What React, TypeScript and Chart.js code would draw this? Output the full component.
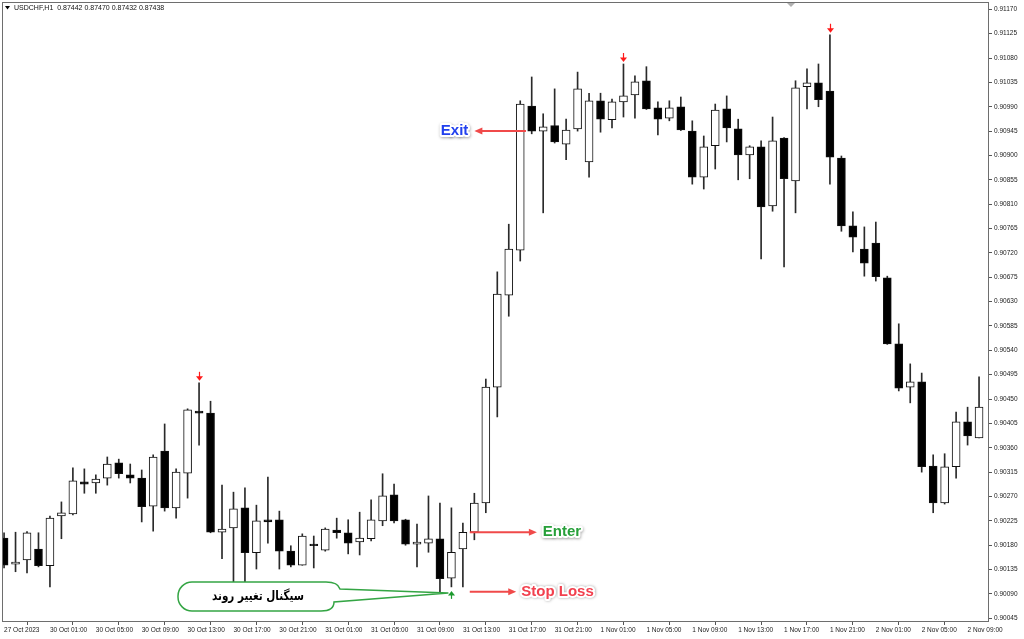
import React, { useEffect, useRef } from "react";
import { Chart, registerables } from "chart.js";

Chart.register(...registerables);

// USDCHF H1 candles, 27 Oct 2023 21:00 -> 2 Nov 2023 10:00
const opens = [
  0.90193, 0.90145, 0.90153, 0.90173, 0.90142, 0.90234, 0.90238, 0.90297, 0.90295, 0.90304,
  0.90332, 0.9031, 0.90304, 0.90252, 0.90354, 0.90249, 0.90313, 0.90428, 0.90424, 0.90204,
  0.90212, 0.90249, 0.90166, 0.90227, 0.90227, 0.90169, 0.90143, 0.90182, 0.90171, 0.90208,
  0.90203, 0.90186, 0.90192, 0.90225, 0.90273, 0.90227, 0.90182, 0.90184, 0.90192, 0.90119,
  0.90173, 0.90204, 0.90258, 0.90472, 0.90642, 0.90725, 0.90991, 0.90945, 0.90955, 0.90921,
  0.90949, 0.90888, 0.91001, 0.90966, 0.90999, 0.91012, 0.91038, 0.90988, 0.90969, 0.9099,
  0.90945, 0.9086, 0.90918, 0.90986, 0.90949, 0.90901, 0.90916, 0.90807, 0.90932, 0.90853,
  0.91027, 0.91034, 0.91019, 0.90895, 0.9077, 0.90727, 0.90738, 0.90674, 0.90552, 0.90472,
  0.90482, 0.90326, 0.90258, 0.90325, 0.90408, 0.90378,
];
const highs = [
  0.90203, 0.90204, 0.90205, 0.90203, 0.90234, 0.9026, 0.90323, 0.90321, 0.9031, 0.90343,
  0.90339, 0.9033, 0.90319, 0.90347, 0.90404, 0.90321, 0.90432, 0.9048, 0.90446, 0.90291,
  0.90278, 0.90286, 0.90254, 0.90306, 0.90243, 0.90179, 0.90201, 0.90197, 0.90212, 0.9023,
  0.90227, 0.90241, 0.90264, 0.90312, 0.90293, 0.90228, 0.90219, 0.90271, 0.90258, 0.90249,
  0.90221, 0.90276, 0.90487, 0.90685, 0.90773, 0.91001, 0.91045, 0.90977, 0.91023, 0.90967,
  0.91054, 0.91015, 0.91015, 0.91004, 0.91069, 0.91047, 0.91064, 0.90999, 0.91001, 0.91008,
  0.90964, 0.90936, 0.90995, 0.9101, 0.90967, 0.90918, 0.90927, 0.90971, 0.90933, 0.91038,
  0.9106, 0.91069, 0.91123, 0.90899, 0.90796, 0.90768, 0.90777, 0.90677, 0.90589, 0.90515,
  0.90498, 0.90347, 0.90349, 0.90426, 0.90435, 0.90491,
];
const lows = [
  0.90138, 0.90131, 0.90129, 0.9014, 0.90103, 0.90192, 0.90236, 0.90276, 0.90276, 0.90291,
  0.90304, 0.90295, 0.90223, 0.90206, 0.90243, 0.9023, 0.90267, 0.90365, 0.90203, 0.90155,
  0.90112, 0.90112, 0.90136, 0.90184, 0.90136, 0.9014, 0.90143, 0.90138, 0.90169, 0.90193,
  0.90164, 0.90162, 0.90188, 0.90216, 0.90221, 0.9018, 0.9014, 0.90167, 0.90094, 0.90103,
  0.90103, 0.9019, 0.9024, 0.90417, 0.90603, 0.90705, 0.9094, 0.90794, 0.90923, 0.90892,
  0.90945, 0.9086, 0.90943, 0.90951, 0.90971, 0.90969, 0.90985, 0.90938, 0.90964, 0.90946,
  0.90847, 0.90838, 0.90875, 0.90925, 0.90855, 0.90857, 0.90709, 0.90797, 0.90694, 0.90794,
  0.90986, 0.9099, 0.90847, 0.9076, 0.90722, 0.90677, 0.90668, 0.90551, 0.90465, 0.90443,
  0.90315, 0.9024, 0.90256, 0.90304, 0.90365, 0.90378,
];
const closes = [
  0.90143, 0.90149, 0.90203, 0.90142, 0.9023, 0.9024, 0.90299, 0.90293, 0.90302, 0.9033,
  0.90312, 0.90304, 0.90251, 0.90343, 0.90249, 0.90315, 0.9043, 0.90424, 0.90204, 0.9021,
  0.90247, 0.90166, 0.90225, 0.90223, 0.90169, 0.90143, 0.90197, 0.90179, 0.9021, 0.90203,
  0.90184, 0.90193, 0.90227, 0.90271, 0.90225, 0.90182, 0.90186, 0.90192, 0.90118, 0.90167,
  0.90204, 0.90258, 0.90472, 0.90644, 0.90727, 0.90995, 0.90945, 0.90953, 0.90925, 0.90947,
  0.91023, 0.91001, 0.90967, 0.90999, 0.9101, 0.91036, 0.90986, 0.90967, 0.90988, 0.90947,
  0.9086, 0.90916, 0.90984, 0.90951, 0.90901, 0.90916, 0.90805, 0.90927, 0.90857, 0.91025,
  0.91034, 0.91003, 0.90897, 0.9077, 0.90749, 0.90701, 0.90676, 0.90552, 0.9047, 0.90482,
  0.90325, 0.90258, 0.90325, 0.90408, 0.90382, 0.90435,
];

const xTickIndex = [0, 4, 8, 12, 16, 20, 24, 28, 32, 36, 40, 44, 48, 52, 56, 60, 64, 68, 72, 76, 80, 84];
const xTickLabels = [
  "27 Oct 2023", "30 Oct 01:00", "30 Oct 05:00", "30 Oct 09:00", "30 Oct 13:00", "30 Oct 17:00",
  "30 Oct 21:00", "31 Oct 01:00", "31 Oct 05:00", "31 Oct 09:00", "31 Oct 13:00", "31 Oct 17:00",
  "31 Oct 21:00", "1 Nov 01:00", "1 Nov 05:00", "1 Nov 09:00", "1 Nov 13:00", "1 Nov 17:00",
  "1 Nov 21:00", "2 Nov 01:00", "2 Nov 05:00", "2 Nov 09:00",
];
const yTickValues = [
  0.90045, 0.9009, 0.90135, 0.9018, 0.90225, 0.9027, 0.90315, 0.9036, 0.90405, 0.9045,
  0.90495, 0.9054, 0.90585, 0.9063, 0.90675, 0.9072, 0.90765, 0.9081, 0.90855, 0.909,
  0.90945, 0.9099, 0.91035, 0.9108, 0.91125, 0.9117,
];

const downSignals = [17, 54, 72];
const upSignals = [39];

const headerText = "USDCHF,H1  0.87442 0.87470 0.87432 0.87438";
const exitLevel = 0.90945;
const enterLevel = 0.90204;
const stopLevel = 0.90094;
const calloutText = "سیگنال تغییر روند";

function haloText(ctx: CanvasRenderingContext2D, text: string, x: number, y: number, color: string, align: CanvasTextAlign) {
  ctx.save();
  ctx.font = 'bold 15px "Liberation Sans", Arial, sans-serif';
  ctx.textAlign = align;
  ctx.textBaseline = "middle";
  ctx.shadowColor = "rgba(0,0,0,0.35)";
  ctx.shadowBlur = 3;
  ctx.shadowOffsetX = 0.5;
  ctx.shadowOffsetY = 0.5;
  ctx.strokeStyle = "#ffffff";
  ctx.lineWidth = 4;
  ctx.lineJoin = "round";
  ctx.strokeText(text, x, y);
  ctx.shadowColor = "transparent";
  ctx.fillStyle = color;
  ctx.fillText(text, x, y);
  ctx.restore();
}

function arrow(ctx: CanvasRenderingContext2D, x1: number, y1: number, x2: number, y: number) {
  ctx.save();
  ctx.strokeStyle = "#f04a4a";
  ctx.fillStyle = "#f04a4a";
  ctx.lineWidth = 2;
  const dir = x2 > x1 ? 1 : -1;
  ctx.beginPath();
  ctx.moveTo(x1, y);
  ctx.lineTo(x2 - dir * 6, y);
  ctx.stroke();
  ctx.beginPath();
  ctx.moveTo(x2, y);
  ctx.lineTo(x2 - dir * 8, y - 3.5);
  ctx.lineTo(x2 - dir * 8, y + 3.5);
  ctx.closePath();
  ctx.fill();
  ctx.restore();
}

const overlay = {
  id: "overlay",
  afterDraw(chart: any) {
    const { ctx, chartArea: a, scales } = chart;
    const x = scales.x;
    const y = scales.y;
    ctx.save();
    // frame
    ctx.strokeStyle = "#6e6e6e";
    ctx.lineWidth = 1;
    ctx.strokeRect(a.left + 0.5, a.top + 0.5, a.right - a.left, a.bottom - a.top);
    // shift marker
    ctx.fillStyle = "#b0b0b0";
    ctx.beginPath();
    ctx.moveTo(787, a.top + 1);
    ctx.lineTo(795, a.top + 1);
    ctx.lineTo(791, a.top + 5);
    ctx.closePath();
    ctx.fill();
    // header
    ctx.fillStyle = "#000";
    ctx.beginPath();
    ctx.moveTo(5, 6);
    ctx.lineTo(10, 6);
    ctx.lineTo(7.5, 9.5);
    ctx.closePath();
    ctx.fill();
    ctx.font = '7px "Liberation Sans", Arial, sans-serif';
    ctx.textBaseline = "middle";
    ctx.textAlign = "left";
    ctx.fillStyle = "#111";
    ctx.fillText(headerText, 14, 8);

    // signal arrows
    for (const i of downSignals) {
      const px = Math.round(x.getPixelForValue(i)) + 0.5;
      const tip = y.getPixelForValue(highs[i]) - 2;
      ctx.strokeStyle = "#ff1a1a";
      ctx.fillStyle = "#ff1a1a";
      ctx.lineWidth = 1.2;
      ctx.beginPath();
      ctx.moveTo(px, tip - 9);
      ctx.lineTo(px, tip - 3);
      ctx.stroke();
      ctx.beginPath();
      ctx.moveTo(px - 3.5, tip - 4.5);
      ctx.lineTo(px + 3.5, tip - 4.5);
      ctx.lineTo(px, tip);
      ctx.closePath();
      ctx.fill();
    }
    for (const i of upSignals) {
      const px = Math.round(x.getPixelForValue(i)) + 0.5;
      const tip = y.getPixelForValue(lows[i]) + 4;
      ctx.strokeStyle = "#1c9a2e";
      ctx.fillStyle = "#1c9a2e";
      ctx.lineWidth = 1.2;
      ctx.beginPath();
      ctx.moveTo(px, tip + 3);
      ctx.lineTo(px, tip + 8);
      ctx.stroke();
      ctx.beginPath();
      ctx.moveTo(px - 3.5, tip + 4.5);
      ctx.lineTo(px + 3.5, tip + 4.5);
      ctx.lineTo(px, tip);
      ctx.closePath();
      ctx.fill();
    }

    // Exit / Enter / Stop Loss
    const yExit = y.getPixelForValue(exitLevel);
    const exitTail = x.getPixelForValue(45.5);
    const exitTip = x.getPixelForValue(41);
    arrow(ctx, exitTail, yExit, exitTip, yExit);
    haloText(ctx, "Exit", exitTip - 6, yExit, "#2140ee", "right");

    const yEnter = y.getPixelForValue(enterLevel);
    const enterTail = x.getPixelForValue(40.6);
    const enterTip = x.getPixelForValue(46.45);
    arrow(ctx, enterTail, yEnter, enterTip, yEnter);
    haloText(ctx, "Enter", enterTip + 6, yEnter, "#27a03a", "left");

    const yStop = y.getPixelForValue(stopLevel);
    const stopTail = x.getPixelForValue(40.6);
    const stopTip = x.getPixelForValue(44.65);
    arrow(ctx, stopTail, yStop, stopTip, yStop);
    haloText(ctx, "Stop Loss", stopTip + 5, yStop, "#f2404e", "left");

    // callout bubble
    const tipX = x.getPixelForValue(upSignals[0]) - 3;
    const tipY = y.getPixelForValue(lows[upSignals[0]]) + 6;
    const L = 178, T = 582, B = 611, r = 14;
    ctx.beginPath();
    ctx.moveTo(L + r, T);
    ctx.lineTo(326, T);
    ctx.quadraticCurveTo(338, T, 340, 589);
    ctx.lineTo(tipX, tipY);
    ctx.lineTo(334, 602);
    ctx.quadraticCurveTo(334, B, 321, B);
    ctx.lineTo(L + r, B);
    ctx.arcTo(L, B, L, B - r, r);
    ctx.lineTo(L, T + r);
    ctx.arcTo(L, T, L + r, T, r);
    ctx.closePath();
    ctx.fillStyle = "#ffffff";
    ctx.fill();
    ctx.strokeStyle = "#34a544";
    ctx.lineWidth = 1.5;
    ctx.stroke();
    ctx.save();
    ctx.translate(258, 597);
    ctx.scale(0.8, 1);
    ctx.fillStyle = "#000";
    ctx.font = 'bold 13px "DejaVu Sans", sans-serif';
    ctx.textAlign = "center";
    ctx.textBaseline = "middle";
    (ctx as any).direction = "rtl";
    ctx.fillText(calloutText, 0, 0);
    ctx.restore();
    ctx.restore();
  },
};

export default function App() {
  const ref = useRef<HTMLCanvasElement>(null);
  useEffect(() => {
    document.body.style.margin = "0";
    const canvas = ref.current;
    if (!canvas) return;
    const bodyColors = opens.map((o, i) => (closes[i] >= o ? "#ffffff" : "#000000"));
    const tickFont = { family: '"Liberation Sans", Arial, sans-serif', size: 6.5 };
    const chart = new Chart(canvas, {
      type: "bar",
      data: {
        datasets: [
          {
            label: "body",
            data: opens.map((o, i) => ({ x: i, y: [o, closes[i]] })) as any,
            backgroundColor: bodyColors,
            borderColor: "#111111",
            borderWidth: 1,
            borderSkipped: false,
            barThickness: 8,
            grouped: false,
            order: 0,
          } as any,
          {
            label: "wick",
            data: lows.map((l, i) => ({ x: i, y: [l, highs[i]] })) as any,
            backgroundColor: "#2a2a2a",
            borderWidth: 0,
            barThickness: 1,
            grouped: false,
            order: 1,
          } as any,
        ],
      },
      options: {
        animation: false,
        responsive: false,
        maintainAspectRatio: false,
        devicePixelRatio: 1,
        layout: { padding: { left: 2, top: 2, right: 0, bottom: 0 } },
        plugins: { legend: { display: false }, tooltip: { enabled: false } },
        scales: {
          x: {
            type: "linear",
            min: -0.18,
            max: 85.78,
            offset: false,
            afterBuildTicks: (s: any) => {
              s.ticks = xTickIndex.map((v) => ({ value: v }));
            },
            afterFit: (s: any) => {
              s.height = 18;
              s.paddingLeft = 0;
              s.paddingRight = 0;
            },
            border: { display: false },
            grid: { drawOnChartArea: false, drawTicks: true, tickLength: 4, color: "#555" },
            ticks: {
              autoSkip: false,
              maxRotation: 0,
              minRotation: 0,
              align: "start",
              padding: 1,
              color: "#1a1a1a",
              font: tickFont,
              callback: (v: any) => {
                const k = xTickIndex.indexOf(Number(v));
                return k >= 0 ? xTickLabels[k] : "";
              },
            },
          } as any,
          y: {
            type: "linear",
            position: "right",
            min: 0.9004,
            max: 0.911835,
            afterBuildTicks: (s: any) => {
              s.ticks = yTickValues.map((v) => ({ value: v }));
            },
            afterFit: (s: any) => {
              s.width = 36;
              s.paddingTop = 0;
              s.paddingBottom = 0;
            },
            border: { display: false },
            grid: { drawOnChartArea: false, drawTicks: true, tickLength: 4, color: "#555" },
            ticks: {
              autoSkip: false,
              padding: 2,
              color: "#1a1a1a",
              font: tickFont,
              callback: (v: any) => Number(v).toFixed(5),
            },
          } as any,
        },
      },
      plugins: [overlay],
    });
    return () => chart.destroy();
  }, []);
  return (
    <div style={{ width: 1024, height: 639, background: "#fff" }}>
      <canvas ref={ref} width={1024} height={639} style={{ display: "block", width: 1024, height: 639 }} />
    </div>
  );
}
